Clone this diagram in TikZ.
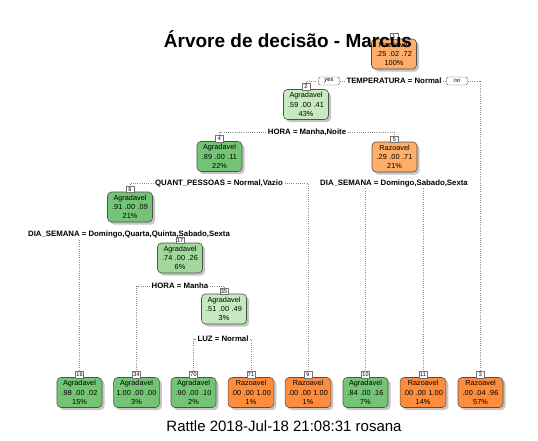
\documentclass[tikz,border=0pt]{standalone}
\usepackage{fontspec}
\setmainfont{Liberation Sans}
\usetikzlibrary{shadows}
\definecolor{gA}{HTML}{74C476}
\definecolor{gB}{HTML}{A1D99B}
\definecolor{gC}{HTML}{C7E9C0}
\definecolor{oA}{HTML}{FDAE6B}
\definecolor{oB}{HTML}{FD8D3C}
\definecolor{bord}{HTML}{505050}
\definecolor{branchc}{HTML}{8C8C8C}
\newcommand\probs[3]{#1\hspace{2.6pt}#2\hspace{2.6pt}#3}
\tikzset{
  tnode/.style={draw=bord, line width=0.6pt, rounded corners=4pt,
    minimum width=45pt, minimum height=30pt, inner xsep=3pt, inner ysep=1pt,
    align=center, font=\fontsize{7.3}{9.3}\selectfont,
    drop shadow={shadow xshift=2.5pt, shadow yshift=-2.5pt, fill=black!50, opacity=0.45}},
  numlab/.style={draw=black!55, fill=white, line width=0.4pt, inner sep=0.7pt,
    minimum width=8pt, minimum height=6.5pt, font=\fontsize{5.5}{6}\selectfont,
    anchor=south, yshift=-1pt},
  split/.style={font=\bfseries\fontsize{7.8}{9}\selectfont, inner sep=1.5pt},
  yn/.style={draw=black!60, fill=white, rounded corners=1.5pt, line width=0.4pt,
    minimum width=21pt, minimum height=8pt, inner sep=0.5pt,
    font=\itshape\fontsize{6}{7}\selectfont},
  branch/.style={draw=branchc, line width=0.6pt, dash pattern=on 0.7pt off 1.5pt}
}
\begin{document}
\begin{tikzpicture}[x=1pt,y=-1pt]
\useasboundingbox (0,0) rectangle (538,440);
% nodes
\node[tnode, fill=oA] (n1) at (394,54) {Razoavel\\\probs{.25}{.02}{.72}\\100\%};
\node[tnode, fill=gC] (n2) at (306,104.5) {Agradavel\\\probs{.59}{.00}{.41}\\43\%};
\node[tnode, fill=gA] (n4) at (219.5,156.5) {Agradavel\\\probs{.89}{.00}{.11}\\22\%};
\node[tnode, fill=oA] (n5) at (394.5,157) {Razoavel\\\probs{.29}{.00}{.71}\\21\%};
\node[tnode, fill=gA] (n8) at (130,207) {Agradavel\\\probs{.91}{.00}{.09}\\21\%};
\node[tnode, fill=gB] (n17) at (180,258) {Agradavel\\\probs{.74}{.00}{.26}\\6\%};
\node[tnode, fill=gC] (n35) at (224,309) {Agradavel\\\probs{.51}{.00}{.49}\\3\%};
\node[tnode, fill=gA] (n16) at (79.5,392.5) {Agradavel\\\probs{.98}{.00}{.02}\\15\%};
\node[tnode, fill=gA] (n34) at (136.5,392.5) {Agradavel\\\probs{1.00}{.00}{.00}\\3\%};
\node[tnode, fill=gA] (n70) at (193.5,392.5) {Agradavel\\\probs{.90}{.00}{.10}\\2\%};
\node[tnode, fill=oB] (n71) at (251,392.5) {Razoavel\\\probs{.00}{.00}{1.00}\\1\%};
\node[tnode, fill=oB] (n9) at (308,392.5) {Razoavel\\\probs{.00}{.00}{1.00}\\1\%};
\node[tnode, fill=gA] (n10) at (365.5,392.5) {Agradavel\\\probs{.84}{.00}{.16}\\7\%};
\node[tnode, fill=oB] (n11) at (423,392.5) {Razoavel\\\probs{.00}{.00}{1.00}\\14\%};
\node[tnode, fill=oB] (n3) at (480.5,392.5) {Razoavel\\\probs{.00}{.04}{.96}\\57\%};
% number labels
\node[numlab] (l1) at (n1.north) {1};
\node[numlab] (l2) at (n2.north) {2};
\node[numlab] (l4) at (n4.north) {4};
\node[numlab] (l5) at (n5.north) {5};
\node[numlab] (l8) at (n8.north) {8};
\node[numlab] (l17) at (n17.north) {17};
\node[numlab] (l35) at (n35.north) {35};
\node[numlab] (l16) at (n16.north) {16};
\node[numlab] (l34) at (n34.north) {34};
\node[numlab] (l70) at (n70.north) {70};
\node[numlab] (l71) at (n71.north) {71};
\node[numlab] (l9) at (n9.north) {9};
\node[numlab] (l10) at (n10.north) {10};
\node[numlab] (l11) at (n11.north) {11};
\node[numlab] (l3) at (n3.north) {3};
% split labels
\node[split] (s1) at (394,81) {TEMPERATURA = Normal};
\node[yn] (yes) at (329,81) {yes};
\node[yn] (no) at (457,81) {no};
\node[split] (s2) at (307,132) {HORA = Manha,Noite};
\node[split] (s4) at (219,183) {QUANT\_PESSOAS = Normal,Vazio};
\node[split] (s5) at (394,183) {DIA\_SEMANA = Domingo,Sabado,Sexta};
\node[split] (s8) at (129,234.5) {DIA\_SEMANA = Domingo,Quarta,Quinta,Sabado,Sexta};
\node[split] (s17) at (180,286) {HORA = Manha};
\node[split] (s35) at (223,339) {LUZ = Normal};
% branches
\draw[branch] (yes.west) -| (l2.north);
\draw[branch] (yes.east) -- (s1.west);
\draw[branch] (s1.east) -- (no.west);
\draw[branch] (no.east) -| (l3.north);
\draw[branch] (s2.west) -| (l4.north);
\draw[branch] (s2.east) -| (l5.north);
\draw[branch] (s4.west) -| (l8.north);
\draw[branch] (s4.east) -| (l9.north);
\draw[branch] (s5.south -| l10.north) -- (l10.north);
\draw[branch] (s5.south -| l11.north) -- (l11.north);
\draw[branch] (s8.south -| l16.north) -- (l16.north);
\draw[branch] (s17.west) -| (l34.north);
\draw[branch] (s17.east) -| (l35.north);
\draw[branch] (s35.west) -| (l70.north);
\draw[branch] (s35.east) -| (l71.north);
% title and caption
\node[font=\bfseries\fontsize{19}{22}\selectfont, anchor=base, inner sep=0pt] (title) at (288,47) {Árvore de decisão - Marcus};
\node[font=\fontsize{15}{18}\selectfont, anchor=base, inner sep=0pt] (cap) at (284,431) {Rattle 2018-Jul-18 21:08:31 rosana};
\end{tikzpicture}
\end{document}
